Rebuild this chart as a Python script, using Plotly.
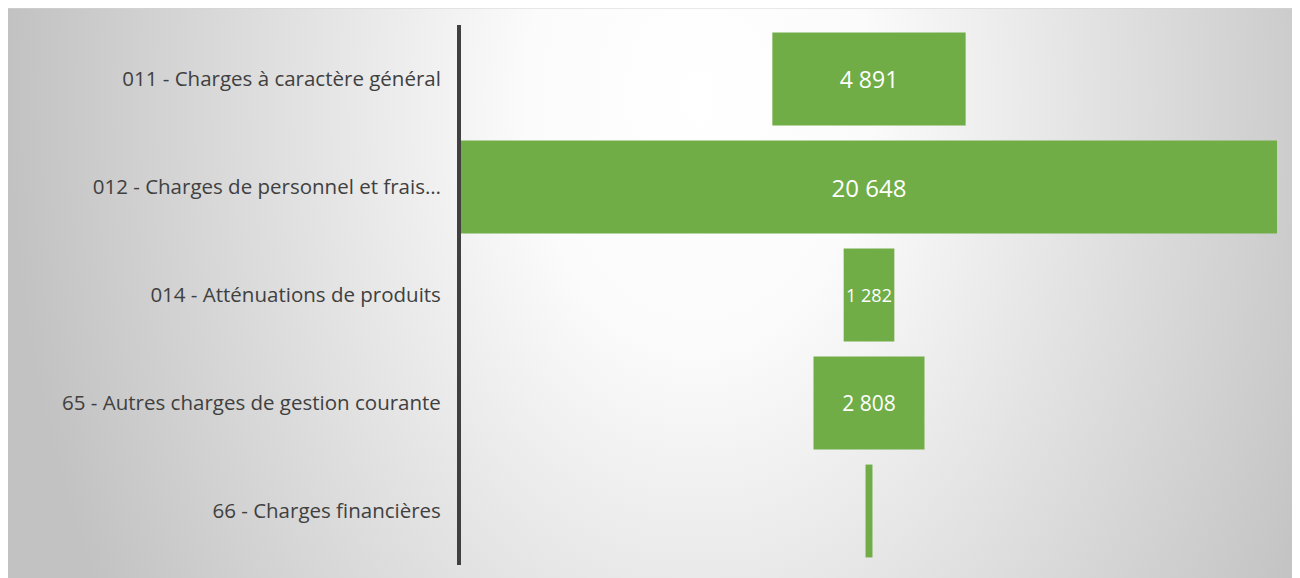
import plotly.graph_objects as go
import base64

categories = [
    "011 - Charges à caractère général",
    "012 - Charges de personnel et frais…",
    "014 - Atténuations de produits",
    "65 - Autres charges de gestion courante",
    "66 - Charges financières",
]
values = [4891, 20648, 1282, 2808, 175]
label_texts = ["4 891", "20 648", "1 282", "2 808", ""]
label_sizes = [23, 24, 18, 21, 1]

W, H = 1288, 570
ml, mr, mt, mb = 453, 19, 17, 13
pw = W - ml - mr
ph = H - mt - mb

svg = f"""<svg xmlns='http://www.w3.org/2000/svg' width='{W}' height='{H}' viewBox='0 0 {W} {H}' preserveAspectRatio='none'>
<defs><radialGradient id='g' gradientUnits='userSpaceOnUse' cx='0' cy='0' r='1' fx='0' fy='0'
 gradientTransform='translate(690 90) scale(690 1000)'>
<stop offset='0' stop-color='#ffffff'/>
<stop offset='0.25' stop-color='#fbfbfb'/>
<stop offset='1' stop-color='#c2c2c2'/>
</radialGradient></defs>
<rect x='0' y='0' width='{W}' height='{H}' fill='url(#g)'/>
</svg>"""
src = "data:image/svg+xml;base64," + base64.b64encode(svg.encode()).decode()

img_x = -ml / pw
img_y = (H - mb) / ph
img_sx = W / pw
img_sy = H / ph

font_family = "Open Sans, Liberation Sans, sans-serif"

fig = go.Figure(go.Funnel(
    y=categories,
    x=values,
    text=label_texts,
    texttemplate="%{text}",
    textposition="inside",
    textfont=dict(color="white", size=label_sizes, family=font_family),
    insidetextanchor="middle",
    marker=dict(color="#70AD47", line=dict(width=0)),
    connector=dict(visible=False),
    hoverinfo="skip",
    constraintext="none",
))

half = max(values) / 2
fig.update_layout(
    width=W, height=H,
    margin=dict(l=ml, r=mr, t=mt, b=mb),
    paper_bgcolor="white",
    plot_bgcolor="rgba(0,0,0,0)",
    funnelgap=0.14,
    showlegend=False,
    font=dict(family=font_family, color="#404040"),
    xaxis=dict(visible=False, range=[-half, half], fixedrange=True),
    yaxis=dict(
        showline=True, linecolor="#404040", linewidth=4,
        showgrid=False, zeroline=False,
        ticks="", ticklabelstandoff=12,
        tickfont=dict(size=20.5, color="#404040", family=font_family),
    ),
    images=[dict(
        source=src, xref="paper", yref="paper",
        x=img_x, y=img_y, sizex=img_sx, sizey=img_sy,
        xanchor="left", yanchor="top", sizing="stretch", layer="below",
    )],
    shapes=[dict(type="line", xref="paper", yref="paper",
                 x0=img_x, x1=img_x + img_sx, y0=img_y, y1=img_y,
                 line=dict(color="#d4d4d4", width=1))],
)

fig.write_html("out.html")
